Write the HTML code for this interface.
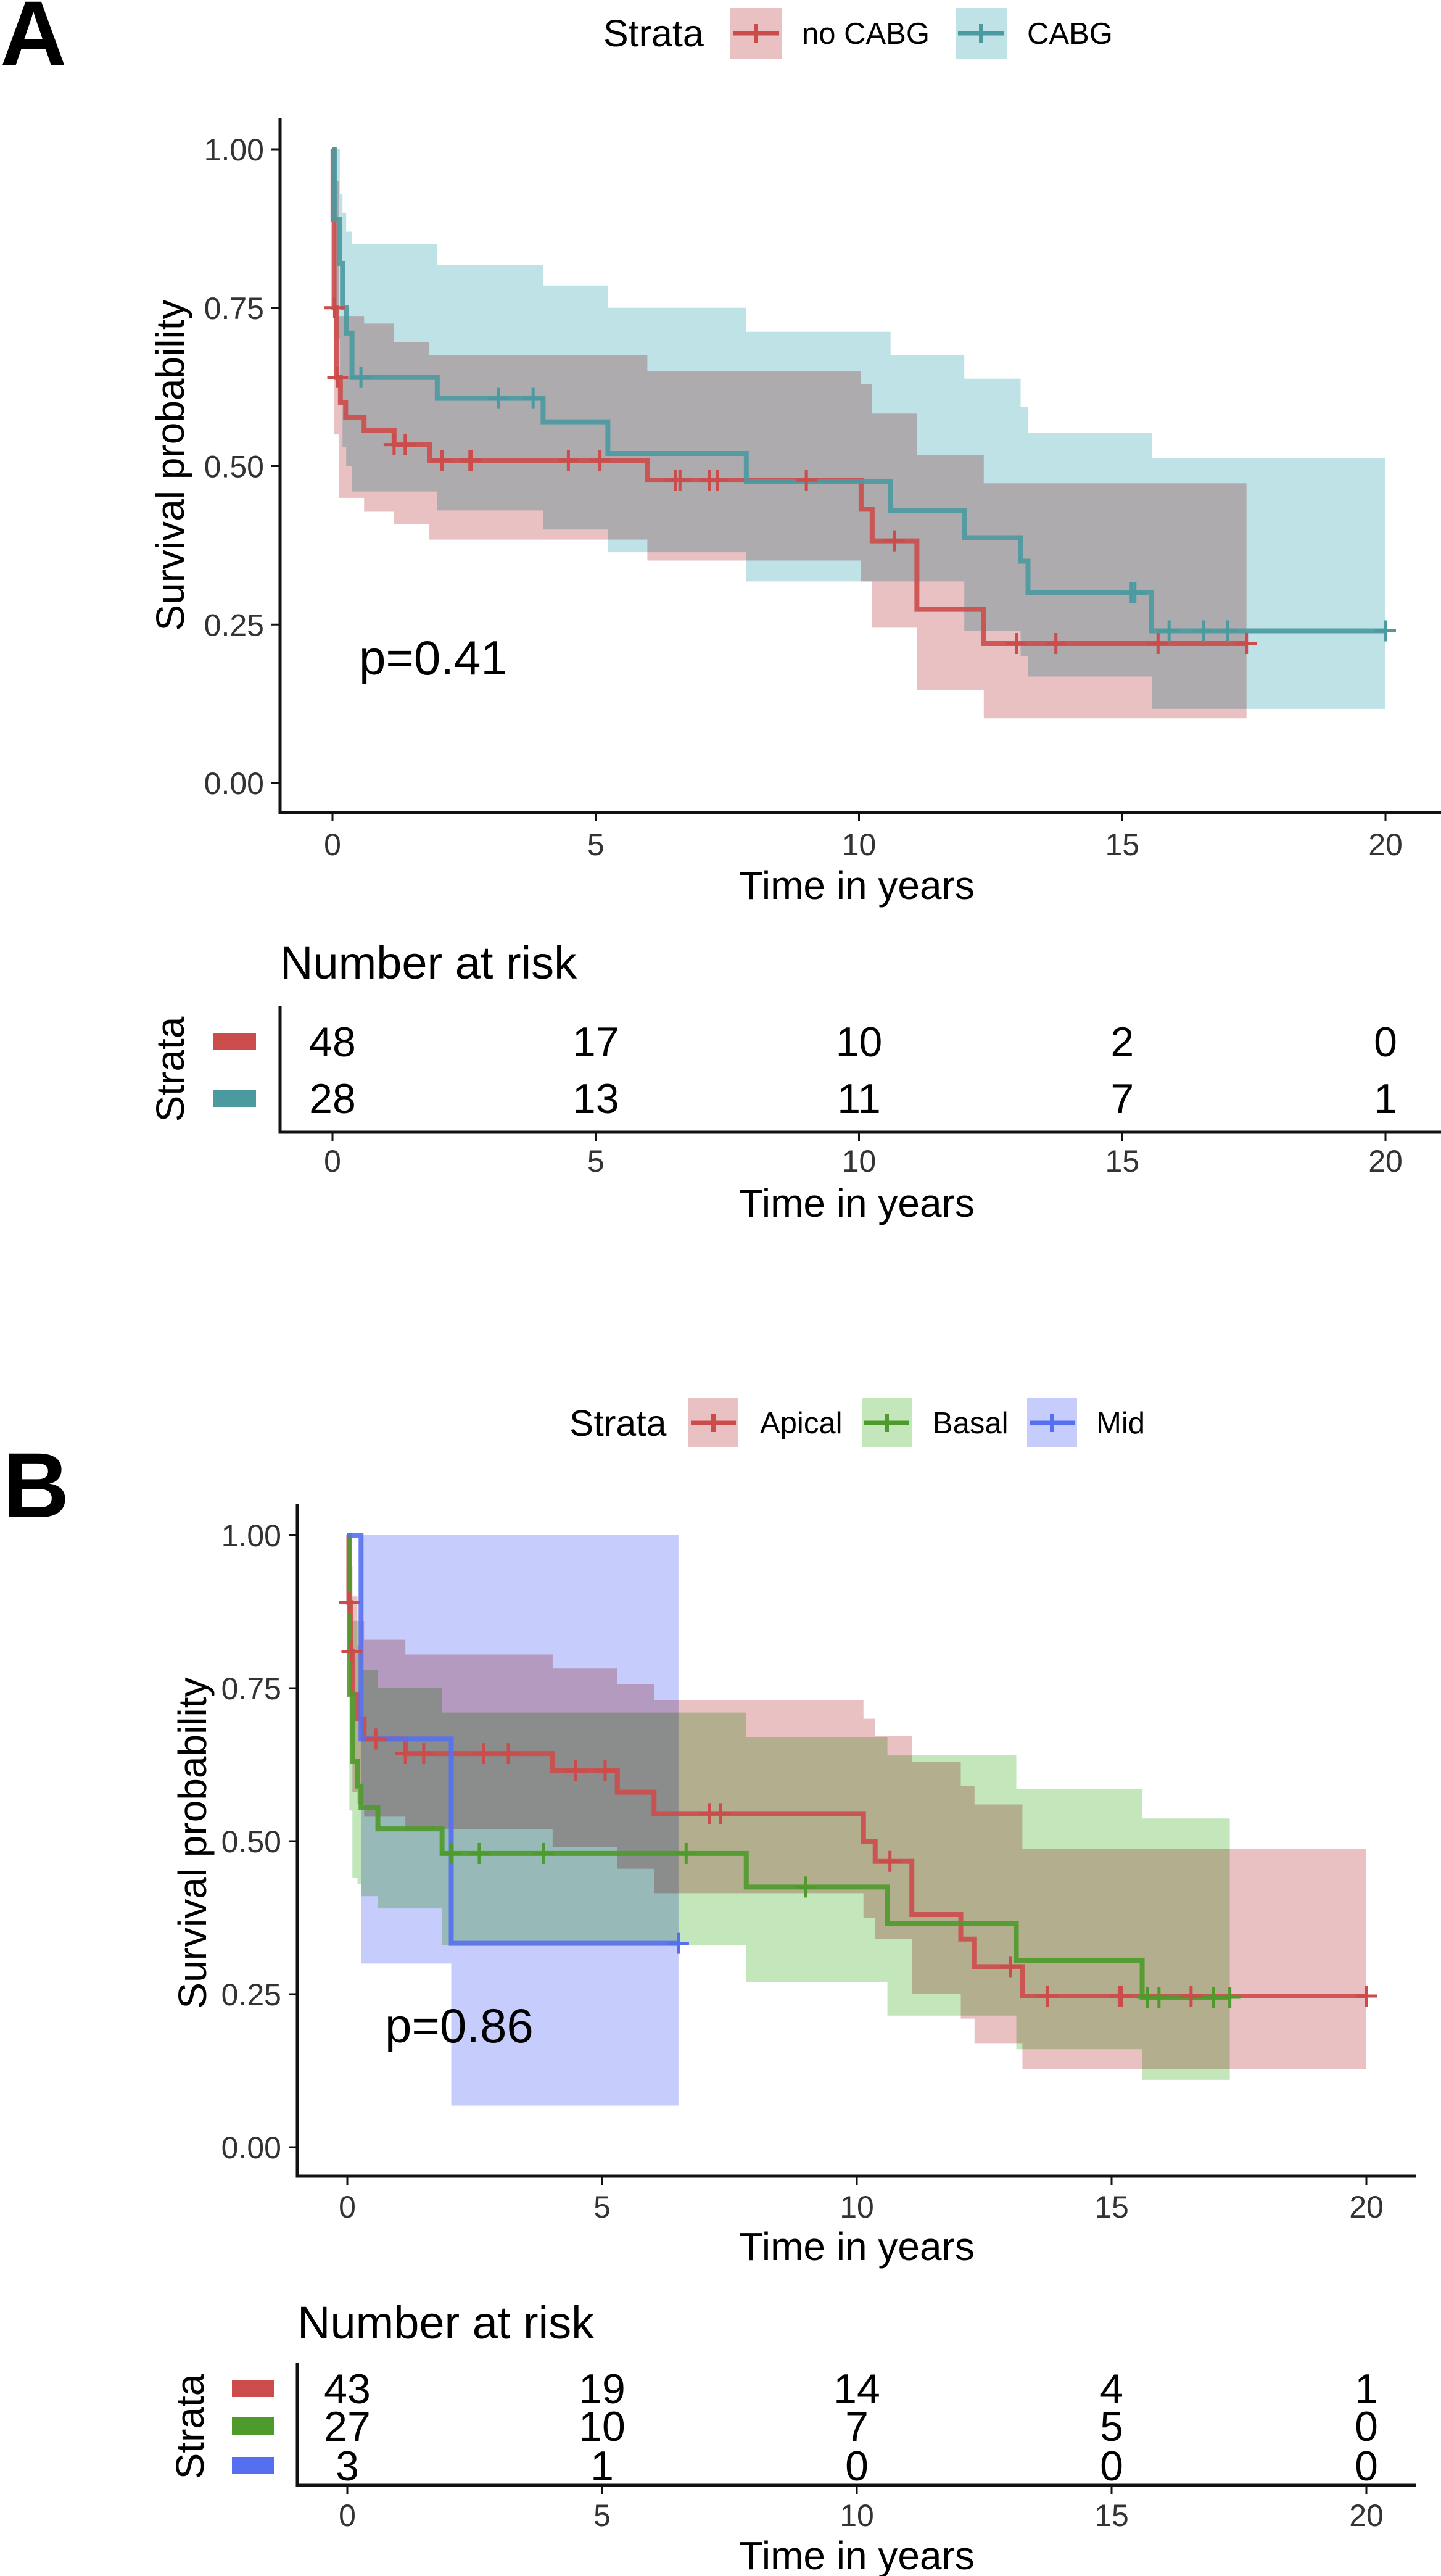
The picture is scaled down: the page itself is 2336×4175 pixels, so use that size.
<!DOCTYPE html>
<html><head><meta charset="utf-8">
<style>
html,body{margin:0;padding:0;background:#fff;}
svg{display:block;font-family:"Liberation Sans",Arial,sans-serif;}
</style></head>
<body>
<svg id="fig" width="2336" height="4175" viewBox="0 0 2336 4175" xmlns="http://www.w3.org/2000/svg">
<rect width="2336" height="4175" fill="#fff"/>
</svg>
<script>
// ---------------- DATA ----------------
const xTicks = [0, 5, 10, 15, 20];
const yTicks = [0, 0.25, 0.5, 0.75, 1.0];
const yTickLabels = ["0.00", "0.25", "0.50", "0.75", "1.00"];

// Panel A: no CABG
const aRedTimes = [0, 0.01, 0.03, 0.07, 0.15, 0.25, 0.6, 1.17, 1.84, 5.98, 10.04, 10.25, 11.1, 12.37];
const aRedSurv  = [1.0, 0.889, 0.75, 0.64, 0.60, 0.577, 0.557, 0.534, 0.509, 0.478, 0.432, 0.382, 0.274, 0.22];
const aRedEnd = 17.36;
const aRedCiTimes = [0, 0.03, 0.12, 0.6, 1.17, 1.84, 5.98, 10.04, 10.25, 11.1, 12.37];
const aRedUpper = [1.0, 0.95, 0.737, 0.725, 0.696, 0.675, 0.65, 0.63, 0.583, 0.517, 0.473];
const aRedLower = [1.0, 0.55, 0.45, 0.428, 0.408, 0.384, 0.351, 0.318, 0.245, 0.146, 0.102];
const aRedCensor = [0.04, 0.1, 1.17, 1.38, 2.08, 2.61, 2.64, 4.48, 5.08, 6.51, 6.6, 7.16, 7.31, 9.0, 10.67, 12.99, 13.74, 15.68, 17.36];
// Panel A: CABG
const aTealTimes = [0, 0.035, 0.14, 0.19, 0.26, 0.37, 1.99, 4.0, 5.23, 7.86, 10.6, 12.0, 13.07, 13.21, 15.56];
const aTealSurv  = [1.0, 0.89, 0.82, 0.75, 0.71, 0.64, 0.607, 0.57, 0.52, 0.476, 0.43, 0.387, 0.35, 0.30, 0.24];
const aTealEnd = 20.0;
const aTealUpper = [1, 1, 0.93, 0.9, 0.87, 0.85, 0.817, 0.785, 0.75, 0.712, 0.675, 0.638, 0.594, 0.553, 0.513];
const aTealLower = [1, 0.7, 0.6, 0.53, 0.5, 0.46, 0.43, 0.40, 0.364, 0.318, 0.318, 0.24, 0.2, 0.168, 0.117];
const aTealCensor = [0.54, 3.15, 3.81, 15.17, 15.24, 15.89, 16.55, 17.0, 20.0];
const riskA = [[48, 17, 10, 2, 0], [28, 13, 11, 7, 1]];

// Panel B: Apical
const bRedTimes = [0, 0.03, 0.06, 0.1, 0.2, 0.33, 1.14, 4.03, 5.3, 6.02, 10.13, 10.36, 11.08, 12.04, 12.31, 13.25];
const bRedSurv  = [1, 0.89, 0.81, 0.74, 0.70, 0.667, 0.643, 0.615, 0.58, 0.545, 0.50, 0.467, 0.38, 0.34, 0.295, 0.247];
const bRedEnd = 20.0;
const bRedUpper = [1, 1, 0.95, 0.9, 0.86, 0.829, 0.805, 0.782, 0.756, 0.73, 0.70, 0.672, 0.63, 0.59, 0.56, 0.487];
const bRedLower = [1, 0.75, 0.66, 0.58, 0.56, 0.54, 0.52, 0.49, 0.455, 0.415, 0.375, 0.34, 0.25, 0.21, 0.17, 0.127];
const bRedCensor = [0.04, 0.09, 0.56, 1.14, 1.5, 2.68, 3.16, 4.48, 5.06, 7.11, 7.32, 10.65, 13.02, 13.74, 15.15, 15.2, 16.56, 20.0];
// Panel B: Basal
const bGreenTimes = [0, 0.04, 0.1, 0.2, 0.27, 0.6, 1.86, 7.83, 10.6, 13.13, 15.6];
const bGreenSurv  = [1, 0.74, 0.63, 0.59, 0.555, 0.52, 0.48, 0.425, 0.365, 0.305, 0.245];
const bGreenEnd = 17.32;
const bGreenUpper = [1, 0.95, 0.86, 0.82, 0.78, 0.75, 0.71, 0.67, 0.64, 0.585, 0.537];
const bGreenLower = [1, 0.55, 0.44, 0.43, 0.41, 0.39, 0.33, 0.27, 0.215, 0.16, 0.11];
const bGreenCensor = [2.04, 2.59, 3.85, 6.65, 9.0, 15.7, 15.93, 17.0, 17.32];
// Panel B: Mid
const bBlueTimes = [0, 0.27, 2.04];
const bBlueSurv  = [1, 0.667, 0.333];
const bBlueEnd = 6.5;
const bBlueUpper = [1, 1, 1];
const bBlueLower = [1, 0.3, 0.068];
const bBlueCensor = [6.5];
const riskB = [[43, 19, 14, 4, 1], [27, 10, 7, 5, 0], [3, 1, 0, 0, 0]];

// ---------------- DRAWING ----------------
const NS = "http://www.w3.org/2000/svg";
const svg = document.getElementById("fig");
function mk(tag, attrs, parent) {
  const e = document.createElementNS(NS, tag);
  for (const k in attrs) e.setAttribute(k, attrs[k]);
  (parent || svg).appendChild(e);
  return e;
}
function txt(s, attrs, parent) { const e = mk("text", attrs, parent); e.textContent = s; return e; }

function stepVal(times, vals, t) {
  let v = vals[0];
  for (let i = 0; i < times.length; i++) if (times[i] <= t) v = vals[i];
  return v;
}
function stepPath(times, vals, end, X, Y) {
  let d = "M" + X(times[0]) + " " + Y(vals[0]);
  for (let i = 1; i < times.length; i++) d += " H" + X(times[i]) + " V" + Y(vals[i]);
  d += " H" + X(end);
  return d;
}
function ribbonPath(times, up, lo, end, X, Y) {
  let d = "M" + X(times[0]) + " " + Y(up[0]);
  for (let i = 1; i < times.length; i++) d += " H" + X(times[i]) + " V" + Y(up[i]);
  d += " H" + X(end) + " V" + Y(lo[lo.length - 1]);
  for (let i = times.length - 1; i >= 1; i--) d += " H" + X(times[i]) + " V" + Y(lo[i - 1]);
  d += " H" + X(times[0]) + " Z";
  return d;
}

function panel(cfg) {
  const g = mk("g", {});
  
  
  const X = t => cfg.x0 + t * cfg.ppy;
  const Y = s => cfg.y0 - s * (cfg.y0 - cfg.y1);
  const rg = mk("g", { style: "isolation:isolate" }, g);
  cfg.series.forEach(s => {
    const p = mk("path", { d: ribbonPath(s.ciTimes || s.times, s.upper, s.lower, s.end, X, Y), fill: s.fill, style: "mix-blend-mode:multiply" }, rg);
    
    
  });
  cfg.series.forEach(s => {
    const p = mk("path", { d: stepPath(s.times, s.surv, s.end, X, Y), fill: "none", stroke: s.color, "stroke-width": 8, "stroke-opacity": 0.9 }, g);
    
    
  });
  cfg.series.forEach(s => {
    s.censor.forEach(t => {
      const cx = X(t), cy = Y(stepVal(s.times, s.surv, t));
      const c = mk("path", { d: `M${cx - 17} ${cy} H${cx + 17} M${cx} ${cy - 17} V${cy + 17}`, stroke: s.color, "stroke-width": 5 }, g);
      
      
    });
  });
  const ax = mk("path", { d: `M${cfg.axL} ${cfg.axTop} V${cfg.axBot} H${cfg.axR}`, fill: "none", stroke: "#111", "stroke-width": 5 }, g);
  
  
  yTicks.forEach((v, i) => {
    mk("line", { x1: cfg.axL - 14, x2: cfg.axL, y1: Y(v), y2: Y(v), stroke: "#111", "stroke-width": 3 }, g);
    const l = txt(yTickLabels[i], { x: cfg.axL - 26, y: Y(v) + 18, "font-size": 50, "text-anchor": "end", fill: "#333" }, g);
    
    
  });
  xTicks.forEach(v => {
    mk("line", { x1: X(v), x2: X(v), y1: cfg.axBot, y2: cfg.axBot + 14, stroke: "#111", "stroke-width": 3 }, g);
    const l = txt(String(v), { x: X(v), y: cfg.xLabY, "font-size": 50, "text-anchor": "middle", fill: "#333" }, g);
    
    
  });
  const xt = txt("Time in years", { x: 1389, y: cfg.xTitleY, "font-size": 64, "text-anchor": "middle", fill: "#000" }, g);
  
  
  const yt = txt("Survival probability", { x: 0, y: 0, "font-size": 64, "text-anchor": "middle", fill: "#000", transform: `translate(${cfg.yTitleX},${cfg.yTitleY}) rotate(-90)` }, g);
  
  
  const pv = txt(cfg.pText, { x: cfg.pX, y: cfg.pY, "font-size": 78, fill: "#000" }, g);
  
  
  const lt = txt(cfg.letter, { x: cfg.letterX, y: cfg.letterY, "font-size": 150, "font-weight": "bold", fill: "#000" }, g);
  
  
  const lg = mk("g", {}, g);
  
  
  txt("Strata", { x: cfg.legStrataX, y: cfg.legY + 21, "font-size": cfg.legTitleSize, fill: "#000" }, lg);
  cfg.series.forEach((s, i) => {
    const bx = cfg.legBoxX[i];
    const e = mk("g", {}, lg);
    
    
    mk("rect", { x: bx, y: cfg.legY - cfg.legBoxH / 2, width: cfg.legBoxW, height: cfg.legBoxH, fill: s.fill }, e);
    const cx = bx + cfg.legBoxW / 2;
    mk("path", { d: `M${bx + 4} ${cfg.legY} H${bx + cfg.legBoxW - 4} M${cx} ${cfg.legY - 15} V${cfg.legY + 15}`, stroke: s.color, "stroke-width": 7 }, e);
    txt(s.label, { x: cfg.legLabX[i], y: cfg.legY + 17, "font-size": 49, fill: "#000" }, e);
  });
  const rt = mk("g", {}, g);
  
  
  txt("Number at risk", { x: cfg.axL, y: cfg.riskTitleY + 26, "font-size": 74, fill: "#000" }, rt);
  mk("path", { d: `M${cfg.axL} ${cfg.rAxTop} V${cfg.rAxBot} H${cfg.axR}`, fill: "none", stroke: "#111", "stroke-width": 5 }, rt);
  cfg.risk.forEach((row, r) => {
    const s = cfg.series[r];
    const yc = cfg.rowY[r];
    const sw = mk("rect", { x: cfg.swX, y: yc - 14, width: cfg.swW, height: 28, fill: s.color }, rt);
    
    
    row.forEach((n, j) => {
      const c = txt(String(n), { x: X(xTicks[j]), y: yc + 24, "font-size": 68, "text-anchor": "middle", fill: "#000" }, rt);
      
      
    });
  });
  xTicks.forEach(v => {
    mk("line", { x1: X(v), x2: X(v), y1: cfg.rAxBot, y2: cfg.rAxBot + 14, stroke: "#111", "stroke-width": 3 }, rt);
    txt(String(v), { x: X(v), y: cfg.rTickY, "font-size": 50, "text-anchor": "middle", fill: "#333" }, rt);
  });
  txt("Time in years", { x: 1389, y: cfg.rTitleY, "font-size": 64, "text-anchor": "middle", fill: "#000" }, rt);
  txt("Strata", { x: 0, y: 0, "font-size": 64, "text-anchor": "middle", fill: "#000", transform: `translate(${cfg.rStrataX},${cfg.rStrataY}) rotate(-90)` }, rt);
}

panel({
  name: "panel-a", letter: "A", letterX: 0, letterY: 106,
  x0: 539, ppy: 85.35, y1: 242, y0: 1269,
  axL: 454, axTop: 192, axBot: 1317, axR: 2336,
  xLabY: 1386, xTitleY: 1457, yTitleX: 298, yTitleY: 754,
  pText: "p=0.41", pX: 582, pY: 1093,
  legY: 54, legStrataX: 978, legTitleSize: 61, legBoxX: [1184, 1549], legBoxW: 83, legBoxH: 82, legLabX: [1300, 1665],
  riskTitleY: 1560, rAxTop: 1630, rAxBot: 1835, rowY: [1688, 1780], swX: 346, swW: 69,
  rTickY: 1899, rTitleY: 1972, rStrataX: 298, rStrataY: 1733,
  risk: riskA,
  series: [
    { key: "no-cabg", label: "no CABG", color: "#CC4B4B", fill: "#EAC1C3", times: aRedTimes, surv: aRedSurv, end: aRedEnd, ciTimes: aRedCiTimes, upper: aRedUpper, lower: aRedLower, censor: aRedCensor },
    { key: "cabg", label: "CABG", color: "#4A9AA0", fill: "#BEE2E5", times: aTealTimes, surv: aTealSurv, end: aTealEnd, upper: aTealUpper, lower: aTealLower, censor: aTealCensor }
  ]
});

panel({
  name: "panel-b", letter: "B", letterX: 4, letterY: 2459,
  x0: 563, ppy: 82.6, y1: 2488, y0: 3480,
  axL: 482, axTop: 2438, axBot: 3527, axR: 2296,
  xLabY: 3594, xTitleY: 3663, yTitleX: 334, yTitleY: 2987,
  pText: "p=0.86", pX: 624, pY: 3310,
  legY: 2306, legStrataX: 923, legTitleSize: 59, legBoxX: [1116, 1397, 1665], legBoxW: 81, legBoxH: 80, legLabX: [1232, 1512, 1777],
  riskTitleY: 3764, rAxTop: 3829, rAxBot: 4028, rowY: [3871, 3932, 3996], swX: 376, swW: 68,
  rTickY: 4094, rTitleY: 4164, rStrataX: 330, rStrataY: 3933,
  risk: riskB,
  series: [
    { key: "apical", label: "Apical", color: "#CC4B4B", fill: "#EAC1C3", times: bRedTimes, surv: bRedSurv, end: bRedEnd, upper: bRedUpper, lower: bRedLower, censor: bRedCensor },
    { key: "basal", label: "Basal", color: "#4E9A2B", fill: "#C3E7BA", times: bGreenTimes, surv: bGreenSurv, end: bGreenEnd, upper: bGreenUpper, lower: bGreenLower, censor: bGreenCensor },
    { key: "mid", label: "Mid", color: "#5470F0", fill: "#C6CCFB", times: bBlueTimes, surv: bBlueSurv, end: bBlueEnd, upper: bBlueUpper, lower: bBlueLower, censor: bBlueCensor }
  ]
});
</script>
</body></html>
